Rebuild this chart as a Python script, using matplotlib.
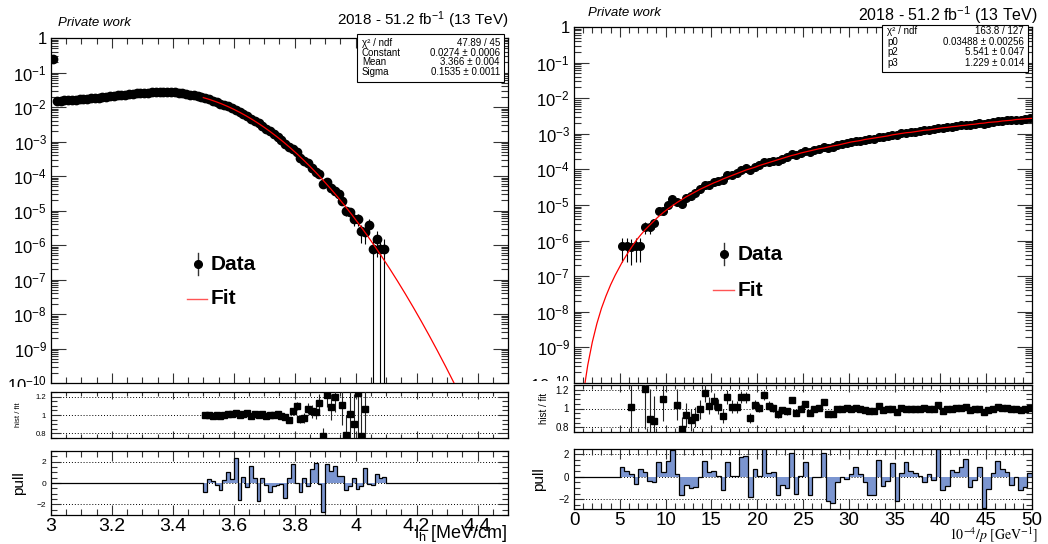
import numpy as np
import matplotlib.pyplot as plt
from matplotlib.ticker import MultipleLocator, FixedLocator, FuncFormatter, LogLocator, NullFormatter
from matplotlib.patches import Rectangle
from matplotlib.lines import Line2D

plt.rcParams['font.family'] = ['Liberation Sans', 'DejaVu Sans']
plt.rcParams['mathtext.fontset'] = 'custom'
plt.rcParams['mathtext.rm'] = 'Liberation Sans'
plt.rcParams['mathtext.it'] = 'Liberation Sans:italic'
plt.rcParams['mathtext.bf'] = 'Liberation Sans:bold'
plt.rcParams['axes.linewidth'] = 0.9

W, H = 1048, 544

# ---------------- left: l_h [MeV/cm] ----------------
lh_start, lh_width = 3.0, 0.0125
# bins 3.0 - 3.5 (below the fit range), read from the main pad
lh_below_fit = [0.25, 0.0150, 0.0152, 0.0155, 0.0158, 0.0160, 0.0163, 0.0166, 0.0170, 0.0174,
                0.0178, 0.0183, 0.0188, 0.0194, 0.0200, 0.0206, 0.0212, 0.0218, 0.0224, 0.0230,
                0.0236, 0.0242, 0.0248, 0.0254, 0.0259, 0.0263, 0.0267, 0.0270, 0.0272, 0.0273,
                0.0272, 0.0269, 0.0264, 0.0257, 0.0249, 0.0240, 0.0229, 0.0218, 0.0206, 0.0195]
# bins 3.5 - 4.1: hist / fit
lh_ratio = [1.00, 1.00, 0.99, 1.00, 0.99, 1.00, 1.01, 1.01, 1.02, 1.00,
            1.01, 1.02, 0.99, 1.01, 1.00, 1.01, 0.99, 1.00, 1.00, 1.01,
            0.99, 0.98, 0.95, 1.04, 1.10, 0.96, 0.97, 1.07, 1.04, 1.03,
            1.13, 0.77, 1.22, 1.09, 1.20, 1.30, 1.11, 0.78, 1.01, 0.90,
            1.24, 0.77, 1.06, 2.40, 0.68, 2.00, 1.43, 2.10]
lh_pull = [-0.8, 0.4, 0.2, -0.2, -0.7, 0.3, 1.0, 0.4, 2.3, -1.6,
           0.6, -0.4, 1.6, 0.5, -1.7, 0.5, -0.2, -0.8, -0.3, -0.2,
           -0.1, -1.4, 0.5, 1.8, 0.0, -0.8, 0.5, -0.3, 1.3, 1.9,
           -0.1, -2.7, 1.8, 1.1, 1.6, 0.7, 0.7, -0.7, -0.3, 0.5,
           -0.6, -0.3, 1.4, -0.1, -0.2, 0.8, 0.5, 0.6]
lh_const, lh_mean, lh_sigma = 0.0274, 3.366, 0.1535
lh_unit = 7.6e-7          # content of a single entry
lh_stats = [('χ² / ndf', '47.89 / 45'), ('Constant', '0.0274 ± 0.0006'),
            ('Mean', '3.366 ± 0.004'), ('Sigma', '0.1535 ± 0.0011')]

# ---------------- right: 1e-4/p [GeV^-1] ----------------
ip_start, ip_width = 5.0, 0.5
# fit curve (log10) read at the bin centres 5.25 ... 49.75
ip_fit_log = [-6.61, -6.40, -6.20, -6.01, -5.85, -5.70, -5.57, -5.44, -5.32, -5.21,
              -5.11, -5.02, -4.93, -4.85, -4.77, -4.70, -4.63, -4.56, -4.50, -4.44,
              -4.38, -4.33, -4.27, -4.22, -4.17, -4.12, -4.07, -4.02, -3.98, -3.94,
              -3.89, -3.85, -3.81, -3.77, -3.73, -3.69, -3.65, -3.61, -3.58, -3.54,
              -3.51, -3.48, -3.45, -3.42, -3.40, -3.37, -3.34, -3.32, -3.29, -3.26,
              -3.23, -3.21, -3.19, -3.16, -3.14, -3.12, -3.10, -3.08, -3.06, -3.03,
              -3.01, -2.99, -2.97, -2.96, -2.94, -2.92, -2.90, -2.89, -2.87, -2.85,
              -2.83, -2.82, -2.80, -2.79, -2.77, -2.76, -2.74, -2.73, -2.71, -2.70,
              -2.68, -2.67, -2.66, -2.64, -2.63, -2.62, -2.60, -2.59, -2.58, -2.57]
# fit curve below the first bin and at the upper edge
ip_fit_lo_x = [1.0, 1.2, 1.5, 2.0, 2.5, 3.0, 3.5, 4.0, 4.5, 5.0]
ip_fit_lo_log = [-10.5, -10.0, -9.5, -8.85, -8.33, -7.9, -7.55, -7.24, -6.97, -6.73]
ip_fit_hi_x, ip_fit_hi_log = [50.0], [-2.565]
ip_ratio = [2.88, 1.78, 1.02, 0.72, 0.50, 1.21, 0.89, 0.87, 1.45, 1.10,
            1.30, 1.55, 1.04, 0.78, 0.93, 0.88, 0.91, 0.99, 1.17, 1.03,
            1.08, 1.02, 0.92, 1.12, 1.02, 1.02, 1.12, 1.12, 0.90, 1.04,
            1.01, 1.14, 1.03, 1.01, 0.94, 0.98, 0.97, 1.09, 0.95, 1.00,
            1.05, 0.95, 1.00, 1.01, 1.07, 0.94, 0.94, 1.00, 0.99, 1.01,
            1.00, 1.01, 0.99, 0.98, 0.97, 0.97, 1.03, 0.98, 1.00, 0.99,
            0.96, 1.01, 1.00, 1.00, 0.99, 1.00, 1.01, 1.00, 0.99, 1.04,
            0.97, 1.00, 1.00, 1.01, 1.01, 1.02, 0.98, 1.00, 1.00, 0.96,
            0.98, 1.00, 1.02, 1.01, 1.01, 0.99, 1.00, 0.98, 0.99, 1.01]
ip_pull = [0.85, 0.5, 0.2, -0.6, 0.7, 0.4, -0.4, -0.5, 1.3, 0.4,
           1.4, 2.4, 0.2, -1.6, -0.7, -1.0, -0.9, 0.0, 1.4, 0.4,
           0.5, 0.1, -1.2, 1.3, 0.1, 0.1, 1.7, 1.8, -1.8, 0.7,
           0.1, 2.5, 0.3, 0.4, -1.6, -0.7, -1.0, 2.1, -1.5, 0.1,
           1.3, -1.6, 0.0, 0.0, 2.1, -2.1, -2.3, -0.5, 0.0, -0.2,
           0.2, 0.9, 0.2, -0.5, -1.6, -1.6, 1.5, -0.8, -0.4, 1.2,
           -2.1, 0.3, 1.3, 0.5, 0.3, 0.1, -0.5, 0.2, -0.3, 2.5,
           -1.2, -0.8, 0.6, 0.4, 0.9, 1.6, -0.9, -0.3, 0.9, -2.8,
           -1.1, 0.3, 1.4, 0.7, 0.4, -0.7, 0.0, -1.2, -0.9, 0.3]
ip_unit = 3e-7
ip_stats = [('χ² / ndf', '163.8 / 127'), ('p0', '0.03488 ± 0.00256'),
            ('p2', '5.541 ± 0.047'), ('p3', '1.229 ± 0.014')]

fig = plt.figure(figsize=(W / 100, H / 100), dpi=100)
fig.patch.set_facecolor('white')


def pax(l, t, r, b, z=0):
    ax = fig.add_axes([l / W, 1 - b / H, (r - l) / W, (b - t) / H])
    ax.set_zorder(z)
    return ax


def fx(px):
    return px / W


def fy(py):
    return 1 - py / H


def root_ticks(ax, xmaj, xmin, ymaj, ymin, size):
    ax.tick_params(which='both', direction='in', top=True, right=True, width=0.8,
                   labelsize=size, color='#333333')
    ax.tick_params(axis='x', which='major', length=xmaj)
    ax.tick_params(axis='x', which='minor', length=xmin)
    ax.tick_params(axis='y', which='major', length=ymaj)
    ax.tick_params(axis='y', which='minor', length=ymin)


def log_label(v, pos):
    e = int(round(np.log10(v)))
    return '1' if e == 0 else r'$\mathregular{10^{%d}}$' % e


def main_pad(ax, x, y, err, xr, fx_, fy_, xmajor, xminor, ms):
    lo = y - np.maximum(y - err, 1e-13)
    ax.errorbar(x, y, yerr=[lo, err], fmt='o', ms=ms, mfc='k', mec='k', ecolor='k',
                elinewidth=0.8, capsize=0, zorder=3)
    ax.plot(fx_, fy_, color='red', lw=0.9, zorder=4)
    ax.set_yscale('log')
    ax.set_ylim(1e-10, 1)
    ax.set_xlim(*xr)
    ax.yaxis.set_major_locator(LogLocator(base=10, numticks=20))
    ax.yaxis.set_minor_locator(LogLocator(base=10, subs=np.arange(2, 10) * 1.0, numticks=20))
    ax.yaxis.set_major_formatter(FuncFormatter(log_label))
    ax.yaxis.set_minor_formatter(NullFormatter())
    ax.xaxis.set_major_locator(MultipleLocator(xmajor))
    ax.xaxis.set_minor_locator(MultipleLocator(xminor))
    ax.xaxis.set_major_formatter(NullFormatter())
    root_ticks(ax, 7, 4, 11, 5, 12)
    ax.tick_params(axis='y', pad=3)


def ratio_pad(ax, x, r, rerr, xr, xmajor, xminor, ms, lsize, tsize):
    ylo, yhi = 0.75, 1.25
    vis = (r > ylo - 0.03) & (r < yhi + 0.02)
    for g in (0.8, 1.0, 1.2):
        ax.axhline(g, color='k', lw=0.7, ls=(0, (1, 2)), zorder=1)
    ax.errorbar(x[vis], r[vis], yerr=rerr[vis], fmt='s', ms=ms, mfc='k', mec='k', ecolor='#222222',
                elinewidth=0.8, capsize=0, zorder=3)
    ax.set_xlim(*xr)
    ax.set_ylim(ylo, yhi)
    ax.yaxis.set_major_locator(FixedLocator([0.8, 1.0, 1.2]))
    ax.yaxis.set_minor_locator(MultipleLocator(0.05))
    ax.yaxis.set_major_formatter(FuncFormatter(lambda v, p: '%g' % v))
    ax.xaxis.set_major_locator(MultipleLocator(xmajor))
    ax.xaxis.set_minor_locator(MultipleLocator(xminor))
    ax.xaxis.set_major_formatter(NullFormatter())
    root_ticks(ax, 5, 3, 7, 4, tsize)
    ax.set_ylabel('hist / fit', fontsize=lsize, labelpad=2)


def pull_pad(ax, edges, pull, xr, ylim, xmajor, xminor, tsize):
    for g in (-2, 0, 2):
        ax.axhline(g, color='k', lw=0.7, ls=(0, (1, 2)), zorder=1)
    ax.stairs(pull, edges, baseline=0, fill=True, color='#7b95d0', lw=0, zorder=2)
    ax.stairs(pull, edges, baseline=0, color='k', lw=0.9, zorder=3)
    ax.plot([xr[0], edges[0]], [0, 0], color='k', lw=0.9, zorder=3)
    ax.plot([edges[-1], xr[1]], [0, 0], color='k', lw=0.9, zorder=3)
    ax.set_xlim(*xr)
    ax.set_ylim(*ylim)
    ax.yaxis.set_major_locator(FixedLocator([-2, 0, 2]))
    ax.yaxis.set_minor_locator(MultipleLocator(0.5))
    ax.xaxis.set_major_locator(MultipleLocator(xmajor))
    ax.xaxis.set_minor_locator(MultipleLocator(xminor))
    ax.xaxis.set_major_formatter(FuncFormatter(lambda v, p: '%g' % v))
    root_ticks(ax, 7, 4, 7, 4, tsize)
    ax.tick_params(axis='x', labelsize=14, pad=2)
    ax.set_ylabel('pull', fontsize=11, labelpad=4)


def stats_box(l, t, r, b, rows, y0, dy):
    fig.add_artist(Rectangle((fx(l), fy(b)), (r - l) / W, (b - t) / H, transform=fig.transFigure,
                             facecolor='white', edgecolor='k', lw=0.8, zorder=5))
    for i, (name, val) in enumerate(rows):
        yy = fy(y0 + i * dy)
        fig.text(fx(l + 5), yy, name, fontsize=7, ha='left', va='center', zorder=6)
        fig.text(fx(r - 4), yy, val, fontsize=7, ha='right', va='center', zorder=6)


def legend(xm, ym, xt, yfit, xl1, xl2):
    fig.add_artist(Line2D([fx(xm)] * 2, [fy(ym - 11), fy(ym + 11)], color='#333333', lw=1.0, zorder=5))
    fig.add_artist(Line2D([fx(xm)], [fy(ym)], marker='o', ms=5.5, color='k', ls='none', zorder=5))
    fig.text(fx(xt), fy(ym), 'Data', fontsize=15, fontweight='bold', ha='left', va='center', zorder=5)
    fig.add_artist(Line2D([fx(xl1), fx(xl2)], [fy(yfit)] * 2, color='#ff5555', lw=1.0, zorder=5))
    fig.text(fx(xt), fy(yfit), 'Fit', fontsize=15, fontweight='bold', ha='left', va='center', zorder=5)


def cover(l, t, r, b):
    # the lower pads hide the bottom of the last main-pad label
    fig.add_artist(Rectangle((fx(l), fy(b)), (r - l) / W, (b - t) / H, transform=fig.transFigure,
                             facecolor='white', edgecolor='none', zorder=0.5))


# ---------- left panel ----------
lh_below = np.array(lh_below_fit)
lh_r = np.array(lh_ratio)
x_below = lh_start + lh_width * (np.arange(len(lh_below)) + 0.5)
fit_lo = lh_start + lh_width * len(lh_below)
x_fit = fit_lo + lh_width * (np.arange(len(lh_r)) + 0.5)
gaus_at = lh_const * np.exp(-0.5 * ((x_fit - lh_mean) / lh_sigma) ** 2)
lh_hist = np.concatenate([lh_below, lh_r * gaus_at])
lh_x = np.concatenate([x_below, x_fit])
lh_err = np.sqrt(lh_hist * lh_unit)
xs = np.linspace(3.5, 4.5, 500)
gaus_line = lh_const * np.exp(-0.5 * ((xs - lh_mean) / lh_sigma) ** 2)

axL = pax(51, 38, 508, 383)
main_pad(axL, lh_x, lh_hist, lh_err, (3.0, 4.5), xs, gaus_line, 0.2, 0.05, 6)
cover(0, 386.5, 50, 393)
axLr = pax(51, 392, 508, 438, 1)
rel = 1 / np.sqrt(lh_r * gaus_at / lh_unit)
ratio_pad(axLr, x_fit, lh_r, lh_r * rel, (3.0, 4.5), 0.2, 0.05, 5, 5.5, 5.5)
axLp = pax(51, 451, 508, 515, 1)
lh_edges = fit_lo + lh_width * np.arange(len(lh_pull) + 1)
pull_pad(axLp, lh_edges, np.array(lh_pull), (3.0, 4.5), (-3, 3), 0.2, 0.05, 6)
axLr.yaxis.set_label_coords(-0.063, 0.5)
axLp.yaxis.set_label_coords(-0.055, 0.5)

fig.text(fx(58), fy(23), 'Private work', fontsize=9.5, style='italic', ha='left', va='center')
fig.text(fx(508), fy(20), r'2018 - 51.2 fb$^{-1}$ (13 TeV)', fontsize=11, ha='right', va='center')
stats_box(357, 34, 504, 82, lh_stats, 43, 9.7)
legend(198, 264, 211, 299, 187, 207)
fig.text(fx(507), fy(533), r'$\mathregular{l_h}$ [MeV/cm]', fontsize=13, ha='right', va='center')

# ---------- right panel ----------
ip_r = np.array(ip_ratio)
ip_x = ip_start + ip_width * (np.arange(len(ip_r)) + 0.5)
ip_fit = 10.0 ** np.array(ip_fit_log)
ip_hist = ip_r * ip_fit
ip_err = np.sqrt(ip_hist * ip_unit)
line_x = np.concatenate([ip_fit_lo_x, ip_x, ip_fit_hi_x])
line_y = 10.0 ** np.concatenate([ip_fit_lo_log, ip_fit_log, ip_fit_hi_log])

axR = pax(574, 27, 1032, 383)
main_pad(axR, ip_x, ip_hist, ip_err, (0, 50), line_x, line_y, 5, 1, 5.5)
cover(522, 381, 573, 393)
axRr = pax(574, 385, 1032, 432, 1)
ratio_pad(axRr, ip_x, ip_r, ip_r * ip_err / ip_hist, (0, 50), 5, 1, 5, 7, 7)
axRp = pax(574, 449, 1032, 509, 1)
ip_edges = ip_start + ip_width * np.arange(len(ip_pull) + 1)
pull_pad(axRp, ip_edges, np.array(ip_pull), (0, 50), (-2.85, 2.45), 5, 1, 7)
axRp.tick_params(axis='x', labelsize=13.5)
axRr.yaxis.set_label_coords(-0.055, 0.5)
axRp.yaxis.set_label_coords(-0.06, 0.5)

fig.text(fx(588), fy(13), 'Private work', fontsize=9.5, style='italic', ha='left', va='center')
fig.text(fx(1038), fy(15), r'2018 - 51.2 fb$^{-1}$ (13 TeV)', fontsize=11.5, ha='right', va='center')
stats_box(882, 25, 1028, 72, ip_stats, 31, 10.7)
legend(724, 254, 738, 290, 713, 734)
fig.text(fx(1038), fy(535), r'$10^{-4}/p\ [\mathrm{GeV}^{-1}]$', fontsize=10, ha='right', va='center',
         math_fontfamily='stix')

fig.savefig('out.png', dpi=100, facecolor='white')
